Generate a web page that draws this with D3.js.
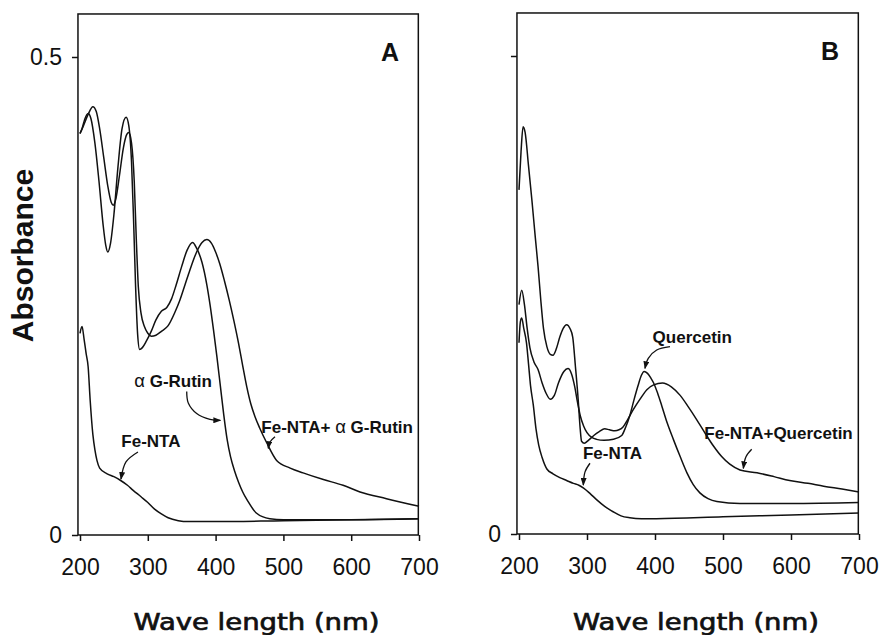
<!DOCTYPE html>
<html>
<head>
<meta charset="utf-8">
<script src="https://cdn.jsdelivr.net/npm/d3@7"></script>
<style>
  body { margin: 0; background: #fff; }
</style>
</head>
<body>
<script>
// spectra: [wavelength (nm), absorbance]
const xTicks = [200, 300, 400, 500, 600, 700];
const yTicks = [0, 0.5];

// panel A
const feNtaA = [
  [200, 0.211], [203, 0.218], [206, 0.205], [209, 0.19], [212, 0.176], [215, 0.141], [219, 0.105],
  [222, 0.089], [225, 0.078], [229, 0.070], [240, 0.064], [250, 0.061], [260, 0.057], [270, 0.052],
  [278, 0.047], [290, 0.040], [300, 0.034], [310, 0.027], [320, 0.022], [330, 0.018], [345, 0.015],
  [360, 0.014], [400, 0.014], [500, 0.015], [600, 0.016], [700, 0.017]
];
const rutinA = [
  [200, 0.420], [203, 0.425], [207, 0.435], [212, 0.441], [216, 0.436], [222, 0.41], [228, 0.37],
  [234, 0.325], [238, 0.303], [241, 0.296], [245, 0.305], [250, 0.335], [256, 0.385], [262, 0.425],
  [268, 0.437], [272, 0.428], [276, 0.39], [279, 0.33], [282, 0.26], [285, 0.21], [288, 0.194],
  [292, 0.196], [298, 0.203], [305, 0.213], [312, 0.225], [320, 0.234], [328, 0.238], [335, 0.247],
  [342, 0.262], [350, 0.281], [358, 0.298], [366, 0.306], [372, 0.300], [380, 0.285], [387, 0.262],
  [392, 0.240], [397, 0.214], [402, 0.186], [407, 0.156], [412, 0.126], [417, 0.100], [422, 0.082],
  [428, 0.067], [434, 0.055], [440, 0.045], [447, 0.036], [460, 0.023], [480, 0.017], [500, 0.016],
  [600, 0.016], [700, 0.017]
];
const feRutinA = [
  [200, 0.420], [205, 0.428], [212, 0.440], [219, 0.448], [224, 0.443], [229, 0.425], [235, 0.395],
  [241, 0.365], [246, 0.348], [249, 0.345], [253, 0.352], [258, 0.375], [264, 0.405], [269, 0.419],
  [272, 0.421], [276, 0.41], [280, 0.37], [283, 0.31], [286, 0.26], [290, 0.232], [295, 0.218],
  [300, 0.211], [305, 0.208], [312, 0.209], [320, 0.213], [330, 0.219], [340, 0.233], [347, 0.245],
  [355, 0.262], [362, 0.277], [372, 0.296], [380, 0.306], [387, 0.309], [394, 0.305], [400, 0.296],
  [406, 0.284], [413, 0.266], [420, 0.246], [427, 0.224], [434, 0.200], [440, 0.177], [446, 0.155],
  [452, 0.137], [458, 0.124], [465, 0.112], [475, 0.097], [490, 0.078], [510, 0.070], [529, 0.065],
  [559, 0.058], [588, 0.052], [613, 0.045], [652, 0.038], [700, 0.030]
];

// panel B
const feNtaB = [
  [200, 0.20], [202, 0.222], [204, 0.226], [207, 0.215], [211, 0.200], [214, 0.178], [217, 0.155],
  [221, 0.135], [225, 0.11], [229, 0.093], [234, 0.080], [241, 0.068], [250, 0.063], [260, 0.059],
  [270, 0.056], [280, 0.053], [288, 0.051], [295, 0.048], [305, 0.042], [314, 0.036], [326, 0.029],
  [339, 0.023], [350, 0.019], [363, 0.017], [380, 0.016], [402, 0.016], [500, 0.018], [600, 0.020],
  [700, 0.022]
];
const quercetinB = [
  [200, 0.24], [204, 0.255], [208, 0.24], [212, 0.215], [216, 0.195], [222, 0.18], [228, 0.172],
  [234, 0.158], [240, 0.147], [246, 0.141], [252, 0.145], [258, 0.158], [266, 0.17], [272, 0.173],
  [277, 0.168], [282, 0.154], [286, 0.138], [290, 0.124], [295, 0.113], [300, 0.106], [307, 0.101],
  [314, 0.099], [325, 0.098], [339, 0.099], [351, 0.103], [357, 0.112], [363, 0.124], [369, 0.140],
  [375, 0.155], [380, 0.166], [384, 0.170], [389, 0.168], [394, 0.163], [398, 0.158], [404, 0.147],
  [410, 0.134], [418, 0.116], [427, 0.099], [437, 0.081], [447, 0.064], [456, 0.052], [466, 0.043],
  [478, 0.037], [491, 0.034], [525, 0.032], [600, 0.032], [700, 0.033]
];
const feQuercetinB = [
  [200, 0.36], [203, 0.40], [206, 0.426], [209, 0.42], [214, 0.385], [219, 0.349], [224, 0.31],
  [228, 0.280], [232, 0.245], [236, 0.215], [241, 0.196], [246, 0.188], [250, 0.187], [255, 0.194],
  [260, 0.206], [265, 0.215], [270, 0.219], [275, 0.215], [279, 0.206], [283, 0.175], [287, 0.141],
  [290, 0.110], [292, 0.097], [296, 0.095], [302, 0.098], [310, 0.103], [318, 0.107], [326, 0.110],
  [333, 0.109], [341, 0.108], [347, 0.109], [353, 0.112], [360, 0.12], [368, 0.130], [378, 0.141],
  [388, 0.151], [398, 0.156], [411, 0.158], [424, 0.154], [437, 0.145], [449, 0.133], [461, 0.120],
  [474, 0.105], [486, 0.092], [498, 0.081], [510, 0.073], [525, 0.067], [550, 0.064], [575, 0.060],
  [598, 0.056], [625, 0.053], [648, 0.050], [675, 0.047], [700, 0.044]
];

// curve labels, anchored in data units, with the arrow path that points to the curve
const notesA = [
  { label: 'α G-Rutin', at: [280, 0.155],
    arrow: [[357.4, 0.150], [359.7, 0.138], [372.1, 0.127], [391.7, 0.121], [407, 0.120]] },
  { label: 'Fe-NTA', at: [261, 0.092],
    arrow: [[285.5, 0.0868], [267.8, 0.0764], [260.5, 0.0586]] },
  { label: 'Fe-NTA+ α G-Rutin', at: [467.5, 0.1067],
    arrow: [[487.6, 0.1028], [480.2, 0.0973], [477.7, 0.0907]] }
];
const notesB = [
  { label: 'Quercetin', at: [396.5, 0.200],
    arrow: [[422, 0.196], [402.5, 0.1925], [390.1, 0.1838], [385.3, 0.1733]] },
  { label: 'Fe-NTA+Quercetin', at: [472.5, 0.099],
    arrow: [[542.2, 0.0886], [533.8, 0.0809], [529.9, 0.0687]] },
  { label: 'Fe-NTA', at: [294, 0.078],
    arrow: [[304.4, 0.074], [297.1, 0.065], [294.6, 0.0513]] }
];

const width = 880, height = 635;
const sans = 'Liberation Sans, Arial, Helvetica, sans-serif';

const svg = d3.select('body').append('svg')
  .attr('width', width)
  .attr('height', height);

svg.append('defs').append('marker')
  .attr('id', 'head')
  .attr('markerUnits', 'userSpaceOnUse')
  .attr('viewBox', '0 0 8 6')
  .attr('refX', 7).attr('refY', 3)
  .attr('markerWidth', 8).attr('markerHeight', 6)
  .attr('orient', 'auto')
  .append('path')
  .attr('d', 'M0,0 L8,3 L0,6 z')
  .attr('fill', '#111');

function drawPanel(p) {
  const x = d3.scaleLinear().domain([200, 700]).range([p.x0, p.x1]);
  const y = d3.scaleLinear().domain([0, 0.5]).range([p.y0, p.y5]);
  const g = svg.append('g');

  // frame
  g.append('rect')
    .attr('x', x(197)).attr('y', y(0.545))
    .attr('width', x(699) - x(197)).attr('height', y(0) - y(0.545))
    .attr('fill', 'none')
    .attr('stroke', '#111')
    .attr('stroke-width', 1.5);

  const xa = g.append('g')
    .attr('transform', `translate(0,${y(0)})`)
    .call(d3.axisBottom(x).tickValues(xTicks).tickSize(6).tickPadding(18).tickFormat(d3.format('d')));
  const ya = g.append('g')
    .attr('transform', `translate(${x(197)},0)`)
    .call(d3.axisLeft(y).tickValues(yTicks).tickSize(6).tickPadding(10)
      .tickFormat(d => (d === 0 || p.yLabels) ? String(d) : ''));
  [xa, ya].forEach(a => {
    a.select('.domain').remove();
    a.selectAll('line').attr('stroke', '#111').attr('stroke-width', 1.5);
    a.selectAll('text').attr('fill', '#111').style('font-family', sans).style('font-size', '23px');
  });

  const line = d3.line()
    .x(d => x(d[0]))
    .y(d => y(d[1]))
    .curve(d3.curveMonotoneX);

  g.selectAll('path.spec')
    .data(p.series)
    .join('path')
    .attr('class', 'spec')
    .attr('d', line)
    .attr('fill', 'none')
    .attr('stroke', '#111')
    .attr('stroke-width', 1.5);

  // labels and arrows
  const arrowLine = d3.line()
    .x(d => x(d[0]))
    .y(d => y(d[1]))
    .curve(d3.curveCatmullRom);

  p.notes.forEach(n => {
    const t = g.append('text')
      .attr('x', x(n.at[0]))
      .attr('y', y(n.at[1]))
      .attr('fill', '#111')
      .style('font-family', sans)
      .style('font-size', '17px')
      .style('font-weight', 'bold');
    n.label.split(/(α)/).filter(s => s.length).forEach(s => {
      t.append('tspan')
        .style('font-weight', s === 'α' ? 'normal' : 'bold')
        .style('font-size', s === 'α' ? '18.5px' : null)
        .text(s);
    });
    g.append('path')
      .attr('d', arrowLine(n.arrow))
      .attr('fill', 'none')
      .attr('stroke', '#111')
      .attr('stroke-width', 1.3)
      .attr('marker-end', 'url(#head)');
  });

  // panel letter
  g.append('text')
    .attr('x', p.letterX)
    .attr('y', p.letterY)
    .attr('text-anchor', 'end')
    .attr('fill', '#111')
    .style('font-family', sans)
    .style('font-size', '25px')
    .style('font-weight', 'bold')
    .text(p.letter);

  // x axis title
  g.append('text')
    .attr('x', (x(200) + x(700)) / 2 + 7)
    .attr('y', 630)
    .attr('text-anchor', 'middle')
    .attr('textLength', 246)
    .attr('lengthAdjust', 'spacingAndGlyphs')
    .attr('fill', '#111')
    .attr('stroke', '#111')
    .attr('stroke-width', 0.7)
    .style('font-family', 'DejaVu Sans, sans-serif')
    .style('font-size', '23px')
    .text('Wave length (nm)');

  return { x, y };
}

drawPanel({ x0: 80, x1: 419, y0: 535, y5: 57, yLabels: true,
  series: [feNtaA, rutinA, feRutinA], notes: notesA, letter: 'A', letterX: 399, letterY: 61 });
drawPanel({ x0: 519, x1: 859, y0: 534, y5: 56, yLabels: false,
  series: [feNtaB, quercetinB, feQuercetinB], notes: notesB, letter: 'B', letterX: 839, letterY: 60 });

svg.append('text')
  .attr('transform', 'translate(33,255.5) rotate(-90)')
  .attr('text-anchor', 'middle')
  .attr('fill', '#111')
  .style('font-family', sans)
  .style('font-size', '30px')
  .style('font-weight', 'bold')
  .text('Absorbance');
</script>
</body>
</html>
